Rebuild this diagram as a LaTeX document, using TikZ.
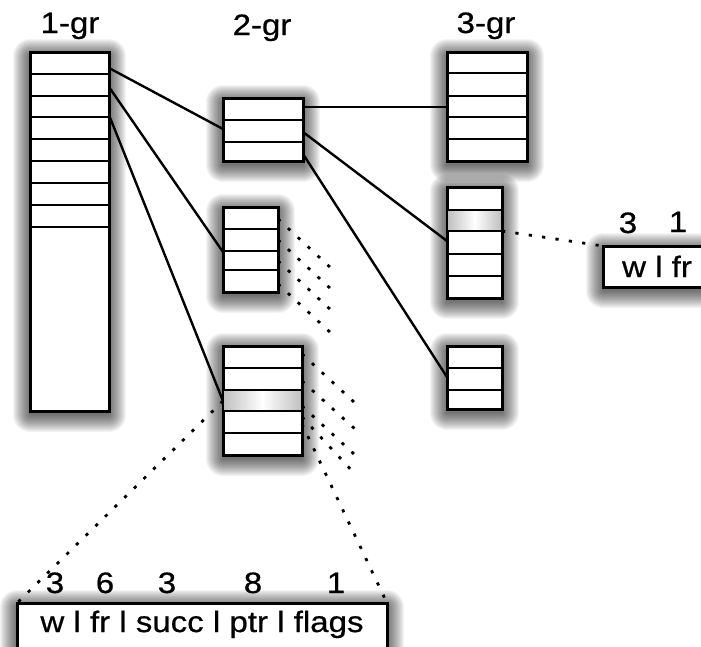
\documentclass[tikz,border=0pt]{standalone}
\usepackage{graphicx}
\usepackage{fontspec}
\setmainfont{Liberation Sans}
\newfontfamily\labelfont{Liberation Sans}[FakeBold=0.6]
\pgfdeclarelayer{shadowlayer}
\pgfsetlayers{shadowlayer,main}

% slightly widened sans text
\newcommand\widetext[1]{\scalebox{1.12}[1]{#1}}
% horizontal row separators inside a table box, offsets measured from its top edge
\newcommand\rowlines[2]{%
  \foreach \d in {#2}{%
    \draw[rowsep] ([yshift=-\d pt]#1.north west) -- ([yshift=-\d pt]#1.north east);}}
% soft drop shadow under a box, built from stacked translucent rectangles
\newcommand\softshadow[1]{%
  \begin{pgfonlayer}{shadowlayer}
    \foreach \k in {0,1,...,17}{%
      \fill[black, opacity=0.042, rounded corners=\k pt]
        ([xshift=-\k pt, yshift=\k pt-4pt]#1.north west) rectangle
        ([xshift=\k pt, yshift=-\k pt-4pt]#1.south east);}
  \end{pgfonlayer}}

\begin{document}
\begin{tikzpicture}[x=1pt,y=-1pt,
  tablebox/.style={draw, line width=3pt, fill=white, inner sep=0pt, outer sep=0pt},
  rowsep/.style={line width=2.3pt},
  link/.style={line width=2.4pt},
  dotlink/.style={line width=2.8pt, dash pattern=on 3.2pt off 10.3pt},
  lbl/.style={font=\labelfont\fontsize{29.5}{34}\selectfont, inner sep=0pt, anchor=base},
  glow/.style={left color=black!24, right color=black!24, middle color=white}]

\useasboundingbox (0,0) rectangle (701,646);
\clip (0,0) rectangle (701,646);

% column titles
\node[lbl] (t1) at (70,33) {\widetext{1-gr}};
\node[lbl] (t2) at (262,35) {\widetext{2-gr}};
\node[lbl] (t3) at (486,33) {\widetext{3-gr}};

% 1-gram table
\node[tablebox, minimum width=79pt, minimum height=359pt] (g1) at (69.5,231.5) {};
\softshadow{g1}
\rowlines{g1}{22,44,65,87,109,131,153,175}

% 2-gram tables
\node[tablebox, minimum width=80pt, minimum height=63pt] (g2a) at (263,129.5) {};
\softshadow{g2a}
\rowlines{g2a}{22,44}
\node[tablebox, minimum width=55pt, minimum height=85pt] (g2b) at (250.5,249.5) {};
\softshadow{g2b}
\rowlines{g2b}{22,44,63}
\node[tablebox, minimum width=79pt, minimum height=109pt] (g2c) at (262.5,400.5) {};
\softshadow{g2c}
\shade[glow] ([xshift=1.5pt,yshift=-44pt]g2c.north west) rectangle ([xshift=-1.5pt,yshift=-65pt]g2c.north east);
\rowlines{g2c}{22,44,65,87}

% 3-gram tables
\node[tablebox, minimum width=80pt, minimum height=109pt] (g3a) at (487,106.5) {};
\softshadow{g3a}
\rowlines{g3a}{21,44,65,87}
\node[tablebox, minimum width=55pt, minimum height=111pt] (g3b) at (474.5,242.5) {};
\softshadow{g3b}
\shade[glow] ([xshift=1.5pt,yshift=-23pt]g3b.north west) rectangle ([xshift=-1.5pt,yshift=-44pt]g3b.north east);
\rowlines{g3b}{23,44,67,89}
\node[tablebox, minimum width=55pt, minimum height=63pt] (g3c) at (474.5,377.5) {};
\softshadow{g3c}
\rowlines{g3c}{22,44}

% record layouts
\node[tablebox, minimum width=108pt, minimum height=41pt] (rb) at (657,266.5) {};
\softshadow{rb}
\node[lbl] (rbt) at (657,277) {\widetext{w l fr}};
\node[lbl] (rb1) at (628,233) {\widetext{3}};
\node[lbl] (rb2) at (678,232) {\widetext{1}};

\node[tablebox, minimum width=370pt, minimum height=47pt] (bb) at (202,626.5) {};
\softshadow{bb}
\node[lbl] (bbt) at (202,632) {\widetext{w l fr l succ l ptr l flags}};
\node[lbl] (bb1) at (55,593) {\widetext{3}};
\node[lbl] (bb2) at (105,593) {\widetext{6}};
\node[lbl] (bb3) at (167,593) {\widetext{3}};
\node[lbl] (bb4) at (253,593) {\widetext{8}};
\node[lbl] (bb5) at (336,593) {\widetext{1}};

% pointer attachment points
\coordinate (a1) at ([yshift=-16pt]g1.north east);
\coordinate (a2) at ([yshift=-35pt]g1.north east);
\coordinate (a3) at ([yshift=-63pt]g1.north east);
\coordinate (b1) at ([yshift=-31pt]g2a.north west);
\coordinate (b2) at ([yshift=-45pt]g2b.north west);
\coordinate (b3) at ([yshift=-55pt]g2c.north west);
\coordinate (c1) at ([yshift=-9pt]g2a.north east);
\coordinate (c2) at ([yshift=-34pt]g2a.north east);
\coordinate (c3) at ([yshift=-56pt]g2a.north east);
\coordinate (d1) at ([yshift=-55pt]g3a.north west);
\coordinate (d2) at ([yshift=-54pt]g3b.north west);
\coordinate (d3) at ([yshift=-31pt]g3c.north west);
\coordinate (e1) at ([yshift=-44pt]g3b.north east);
\coordinate (e2) at ([yshift=-78pt]g2c.north east);

% pointers between tables
\draw[link] (a1) -- (b1);
\draw[link] (a2) -- (b2);
\draw[link] (a3) -- (b3);
\draw[link] (c1) -- (d1);
\draw[link] (c2) -- (d2);
\draw[link] (c3) -- (d3);

% zoomed record layouts
\draw[dotlink] (e1) -- (rb.north west);
\draw[dotlink] (b3) -- (bb.north west);
\draw[dotlink] (e2) -- (bb.north east);

% further pointers, trailing off
\foreach \i/\s in {1/12,2/33,3/54,4/77}{
  \coordinate (fb\i) at ([yshift=-\s pt]g2b.north east);
  \coordinate (fb\i e) at ([shift={(54,50)}]fb\i);
  \draw[dotlink] (fb\i) -- (fb\i e);
}
\foreach \i/\s/\dy in {1/8/49,2/35/48,3/60/49,4/71/57}{
  \coordinate (fc\i) at ([yshift=-\s pt]g2c.north east);
  \coordinate (fc\i e) at ([shift={(53,\dy)}]fc\i);
  \draw[dotlink] (fc\i) -- (fc\i e);
}
\end{tikzpicture}
\end{document}
